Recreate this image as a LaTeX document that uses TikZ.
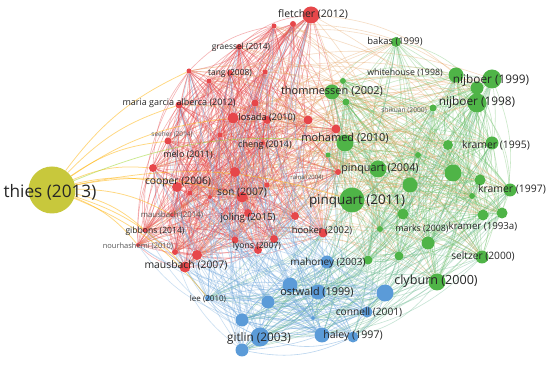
\documentclass[tikz,border=0pt]{standalone}
\usepackage{fontspec}
\setmainfont{Open Sans}
\usetikzlibrary{backgrounds}
\definecolor{cr}{HTML}{E6474A}
\definecolor{cg}{HTML}{4FB447}
\definecolor{cb}{HTML}{5B9BD8}
\definecolor{cy}{HTML}{C8C83C}
\definecolor{txt}{HTML}{262626}
\definecolor{ltxt}{HTML}{555555}
\tikzset{
  nd/.style={circle,inner sep=0pt,draw=none,minimum size=#1},
  rn/.style={nd=#1,fill=cr},
  gn/.style={nd=#1,fill=cg},
  bn/.style={nd=#1,fill=cb},
  yn/.style={nd=#1,fill=cy},
  lb/.style={inner sep=0pt,text=txt,font=\fontsize{#1}{#1}\selectfont},
  lbl/.style={inner sep=0pt,text=ltxt,font=\fontsize{#1}{#1}\selectfont},
  ed/.style={line width=0.6pt,bend left=18},
  er/.style={ed,draw=cr,opacity=0.42},
  eg/.style={ed,draw=cg!85,opacity=0.36},
  eb/.style={ed,draw=cb,opacity=0.42},
  erg/.style={ed,draw=brown!55!orange!75,opacity=0.36},
  egb/.style={ed,draw=teal!45!cg!75,opacity=0.36},
  ebr/.style={ed,draw=cb!85,opacity=0.38},
  ey/.style={line width=0.75pt,bend left=14,draw=orange!60!yellow,opacity=0.5},
}
\newcommand\linkset[4]{%
  \foreach \a [count=\i] in #2 {%
    \foreach \b [count=\j] in #3 {%
      \pgfmathtruncatemacro\k{mod(\i*7+\j*5,#4)}%
      \ifnum\k=0 \ifx\a\b\else \draw[#1] (\a) to (\b);\fi\fi
    }}}
\def\Rlist{r1,r2,r3,r4,r5,r6,r7,r8,r9,r10,r11,r12,r13,r14,r15,r16,r17,r18,r19,r20,r21,r22,r23,r24,r25,r26,r27,r28,r29,r30,r31,r32,r33,r34,r35,r36,r37}
\def\Glist{g1,g2,g3,g4,g5,g6,g7,g8,g9,g10,g11,g12,g13,g14,g15,g16,g17,g18,g19,g20,g21,g22,g23,g24,g25,g26,g27,g28,g29,g30}
\def\Blist{b1,b2,b3,b4,b5,b6,b7,b8,b9,b10,b11,b12,b13}
\begin{document}
\begin{tikzpicture}[x=1pt,y=-1pt]
\useasboundingbox (0,0) rectangle (550,371);
% red cluster
\node[rn=17] (r1) at (311,15) {};
\node[rn=5] (r2) at (274,26) {};
\node[rn=6] (r3) at (293,24) {};
\node[rn=6] (r4) at (239,47) {};
\node[rn=5] (r5) at (189,71) {};
\node[rn=6] (r6) at (230,73) {};
\node[rn=5] (r7) at (265,72) {};
\node[rn=5] (r8) at (209,81) {};
\node[rn=7] (r9) at (179,105) {};
\node[rn=7] (r10) at (255,103) {};
\node[rn=11] (r11) at (233,118) {};
\node[rn=8] (r12) at (267,120) {};
\node[rn=9] (r13) at (308,120) {};
\node[rn=9] (r14) at (336,129) {};
\node[rn=7] (r15) at (168,141) {};
\node[rn=5] (r16) at (220,135) {};
\node[rn=8] (r17) at (153,168) {};
\node[rn=10] (r18) at (235,172) {};
\node[rn=10] (r19) at (177,187) {};
\node[rn=5] (r20) at (190,193) {};
\node[rn=11] (r21) at (242,197) {};
\node[rn=4] (r22) at (210,197) {};
\node[rn=5] (r23) at (267,185) {};
\node[rn=8] (r24) at (295,216) {};
\node[rn=4] (r25) at (172,215) {};
\node[rn=5] (r26) at (145,230) {};
\node[rn=4] (r27) at (138,245) {};
\node[rn=6] (r28) at (175,252) {};
\node[rn=10] (r29) at (197,255) {};
\node[rn=11] (r30) at (185,267) {};
\node[rn=7] (r31) at (235,240) {};
\node[rn=8] (r32) at (258,250) {};
\node[rn=8] (r33) at (274,239) {};
\node[rn=9] (r34) at (323,233) {};
\node[rn=6] (r35) at (338,172) {};
\node[rn=8] (r36) at (248,213) {};
\node[rn=4] (r37) at (263,143) {};
% green cluster
\node[gn=15] (g1) at (332,92) {};
\node[gn=6] (g2) at (343,81) {};
\node[gn=7] (g3) at (346,102) {};
\node[gn=10] (g4) at (396,42) {};
\node[gn=15] (g5) at (456,75) {};
\node[gn=19] (g6) at (492,79) {};
\node[gn=13] (g7) at (477,88) {};
\node[gn=19] (g8) at (477,103) {};
\node[gn=7] (g9) at (433,108) {};
\node[gn=13] (g10) at (492,143) {};
\node[gn=10] (g11) at (448,145) {};
\node[gn=6] (g12) at (418,155) {};
\node[gn=17] (g13) at (378,169) {};
\node[gn=17] (g14) at (453,173) {};
\node[gn=15] (g15) at (410,185) {};
\node[gn=11] (g16) at (480,180) {};
\node[gn=13] (g17) at (510,190) {};
\node[gn=6] (g18) at (472,196) {};
\node[gn=11] (g19) at (403,214) {};
\node[gn=11] (g20) at (483,215) {};
\node[gn=11] (g21) at (502,213) {};
\node[gn=6] (g22) at (380,229) {};
\node[gn=13] (g23) at (428,243) {};
\node[gn=9] (g24) at (399,256) {};
\node[gn=13] (g25) at (482,257) {};
\node[gn=17] (g26) at (437,282) {};
\node[gn=9] (g27) at (368,260) {};
\node[gn=17] (g28) at (345,143) {};
\node[gn=5] (g29) at (328,155) {};
\node[gn=25] (g30) at (352,200) {};
% blue cluster
\node[bn=13] (b1) at (327,262) {};
\node[bn=15] (b2) at (318,292) {};
\node[bn=15] (b3) at (290,285) {};
\node[bn=13] (b4) at (268,302) {};
\node[bn=6] (b5) at (208,298) {};
\node[bn=19] (b6) at (260,337) {};
\node[bn=13] (b7) at (242,320) {};
\node[bn=13] (b8) at (242,350) {};
\node[bn=15] (b9) at (322,335) {};
\node[bn=11] (b10) at (353,337) {};
\node[bn=11] (b11) at (367,312) {};
\node[bn=17] (b12) at (385,293) {};
\node[bn=4] (b13) at (313,318) {};
% yellow
\node[yn=47] (y1) at (52,190) {};
\begin{pgfonlayer}{background}
\fill[white] (0,0) rectangle (550,371);
\linkset{er}{\Rlist}{\Rlist}{3}
\linkset{eg}{\Glist}{\Glist}{3}
\linkset{eb}{\Blist}{\Blist}{2}
\linkset{erg}{\Rlist}{\Glist}{8}
\linkset{egb}{\Glist}{\Blist}{4}
\linkset{ebr}{\Blist}{\Rlist}{4}
\foreach \t in {r5,r9,r15,r17,r19,r25,r26,r27,r30,r21,r11,g30,b5}
  \draw[ey] (y1) to (\t);
\draw[ey,draw=yellow!60!green] (y1) to (g28);
\end{pgfonlayer}
% labels
\node[lb=17.2] (l1) at (50,192) {thies (2013)};
\node[lb=10.4] (l2) at (313,14) {fletcher (2012)};
\node[lb=8.4] (l3) at (241,47) {graessel (2014)};
\node[lb=8.4] (l4) at (230,73) {tang (2008)};
\node[lb=9] (l5) at (179,103) {maria garcia alberca (2012)};
\node[lb=9.2] (l6) at (267,118) {losada (2010)};
\node[lb=11] (l7) at (332,91) {thommessen (2002)};
\node[lb=11] (l8) at (345,138) {mohamed (2010)};
\node[lb=9] (l9) at (265,145) {cheng (2014)};
\node[lbl=6.5] (l10) at (172,135) {seeher (2014)};
\node[lb=9] (l11) at (188,155) {melo (2011)};
\node[lb=10.3] (l12) at (178,182) {cooper (2006)};
\node[lb=10.3] (l13) at (242,193) {son (2007)};
\node[lb=9.7] (l14) at (248,218) {joling (2015)};
\node[lbl=7.8] (l15) at (172,215) {mausbach (2014)};
\node[lb=8.6] (l16) at (155,231) {gibbons (2014)};
\node[lbl=7.5] (l17) at (138,246) {nourhashemi (2010)};
\node[lb=10.4] (l18) at (186,265) {mausbach (2007)};
\node[lb=8.6] (l19) at (257,246) {lyons (2007)};
\node[lb=9.4] (l20) at (322,231) {hooker (2002)};
\node[lbl=6] (l21) at (307,178) {raina (2004)};
\node[lb=10.8] (l22) at (380,169) {pinquart (2004)};
\node[lb=13.4] (l23) at (357,201) {pinquart (2011)};
\node[lb=10] (l24) at (328,263) {mahoney (2003)};
\node[lb=10.8] (l25) at (317,292) {ostwald (1999)};
\node[lb=8] (l26) at (208,299) {lee (2010)};
\node[lb=11.8] (l27) at (259,338) {gitlin (2003)};
\node[lb=10.6] (l28) at (353,336) {haley (1997)};
\node[lb=10.2] (l29) at (369,312) {connell (2001)};
\node[lb=12.6] (l30) at (436,281) {clyburn (2000)};
\node[lb=10.2] (l31) at (483,256) {seltzer (2000)};
\node[lb=8.8] (l32) at (422,229) {marks (2008)};
\node[lb=9.7] (l33) at (483,227) {kramer (1993a)};
\node[lb=10.4] (l34) at (512,189) {kramer (1997)};
\node[lb=10.4] (l35) at (496,145) {kramer (1995)};
\node[lb=11.8] (l36) at (477,102) {nijboer (1998)};
\node[lb=11.8] (l37) at (491,80) {nijboer (1999)};
\node[lbl=6.7] (l38) at (404,110) {shikuan (2000)};
\node[lb=8.8] (l39) at (405,73) {whitehouse (1998)};
\node[lb=9.4] (l40) at (395,42) {bakas (1999)};
\end{tikzpicture}
\end{document}
